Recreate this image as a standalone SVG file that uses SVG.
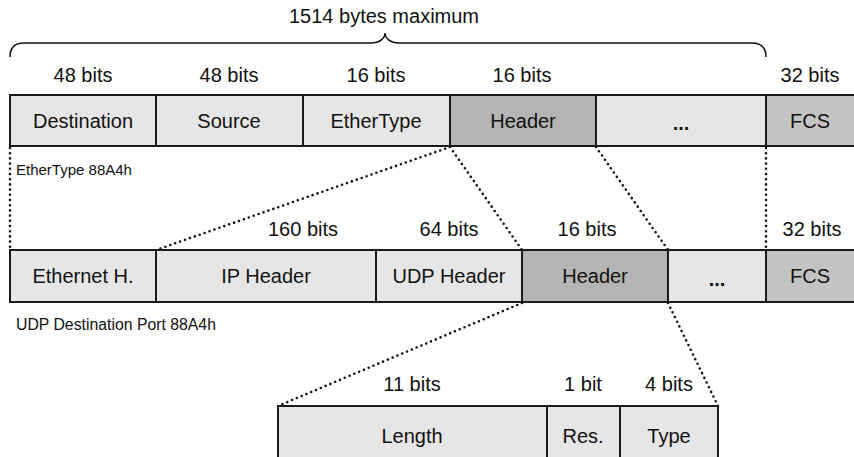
<svg xmlns="http://www.w3.org/2000/svg" width="854" height="457" viewBox="0 0 854 457">
<style>
text{font-family:"Liberation Sans",Arial,sans-serif;fill:#111;}
.t{font-size:20px;text-anchor:middle;}
.s{font-size:15px;}
.c{stroke:#1a1a1a;stroke-width:2;}
.l{fill:#e6e6e6;}
.h{fill:#b4b4b4;}
.f{fill:#c3c3c3;}
.dot{fill:none;stroke:#111;stroke-width:2.6;stroke-linecap:round;stroke-dasharray:0 5.2;}
</style>
<rect width="854" height="457" fill="#fff"/>
<g id="title">
<text class="t" x="384" y="23">1514 bytes maximum</text>
<path d="M10,57 C10,48 14,43 24,43 L371,43 C380,43 385,38 385,33 C385,38 390,43 399,43 L752,43 C762,43 766,48 766,57" fill="none" stroke="#111" stroke-width="1.5"/>
</g>
<g id="connectors">
<line class="dot" x1="10" y1="148" x2="10" y2="250"/>
<line class="dot" x1="766" y1="148" x2="766" y2="250"/>
<line class="dot" x1="450" y1="147" x2="156" y2="250"/>
<line class="dot" x1="450" y1="147" x2="522" y2="250"/>
<line class="dot" x1="596" y1="147" x2="668" y2="250"/>
<line class="dot" x1="522" y1="303" x2="278" y2="406"/>
<line class="dot" x1="668" y1="303" x2="718" y2="406"/>
</g>
<g id="row1">
<text class="t" x="83" y="82">48 bits</text>
<text class="t" x="229" y="82">48 bits</text>
<text class="t" x="376" y="82">16 bits</text>
<text class="t" x="522" y="82">16 bits</text>
<text class="t" x="810" y="82">32 bits</text>
<g id="destination"><rect class="c l" x="10" y="95" width="146" height="51"/><text class="t" x="83" y="128">Destination</text></g>
<g id="source"><rect class="c l" x="156" y="95" width="147" height="51"/><text class="t" x="229" y="128">Source</text></g>
<g id="ethertype"><rect class="c l" x="303" y="95" width="147" height="51"/><text class="t" x="376" y="128">EtherType</text></g>
<g id="header1"><rect class="c h" x="450" y="95" width="146" height="51"/><text class="t" x="523" y="128">Header</text></g>
<g id="rest1"><rect class="c l" x="596" y="95" width="170" height="51"/><text class="t" x="681" y="130" style="font-weight:bold">...</text></g>
<g id="fcs1"><rect class="c f" x="766" y="95" width="90" height="51"/><text class="t" x="810" y="128">FCS</text></g>
<text class="s" x="16" y="175">EtherType 88A4h</text>
</g>
<g id="row2">
<text class="t" x="303" y="236">160 bits</text>
<text class="t" x="449" y="236">64 bits</text>
<text class="t" x="587" y="236">16 bits</text>
<text class="t" x="812" y="236">32 bits</text>
<g id="ethernet"><rect class="c l" x="10" y="250" width="146" height="52"/><text class="t" x="83" y="283">Ethernet H.</text></g>
<g id="ipheader"><rect class="c l" x="156" y="250" width="220" height="52"/><text class="t" x="266" y="283">IP Header</text></g>
<g id="udpheader"><rect class="c l" x="376" y="250" width="146" height="52"/><text class="t" x="449" y="283">UDP Header</text></g>
<g id="header2"><rect class="c h" x="522" y="250" width="146" height="52"/><text class="t" x="595" y="283">Header</text></g>
<g id="rest2"><rect class="c l" x="668" y="250" width="98" height="52"/><text class="t" x="717" y="286" style="font-weight:bold">...</text></g>
<g id="fcs2"><rect class="c f" x="766" y="250" width="90" height="52"/><text class="t" x="810" y="283">FCS</text></g>
<text class="s" x="16" y="330" style="font-size:15.8px">UDP Destination Port 88A4h</text>
</g>
<g id="row3">
<text class="t" x="412" y="391">11 bits</text>
<text class="t" x="583" y="391">1 bit</text>
<text class="t" x="669" y="391">4 bits</text>
<g id="length"><rect class="c l" x="278" y="406" width="269" height="60"/><text class="t" x="412" y="443">Length</text></g>
<g id="res"><rect class="c l" x="547" y="406" width="73" height="60"/><text class="t" x="583" y="443">Res.</text></g>
<g id="type"><rect class="c l" x="620" y="406" width="98" height="60"/><text class="t" x="669" y="443">Type</text></g>
</g>
</svg>
